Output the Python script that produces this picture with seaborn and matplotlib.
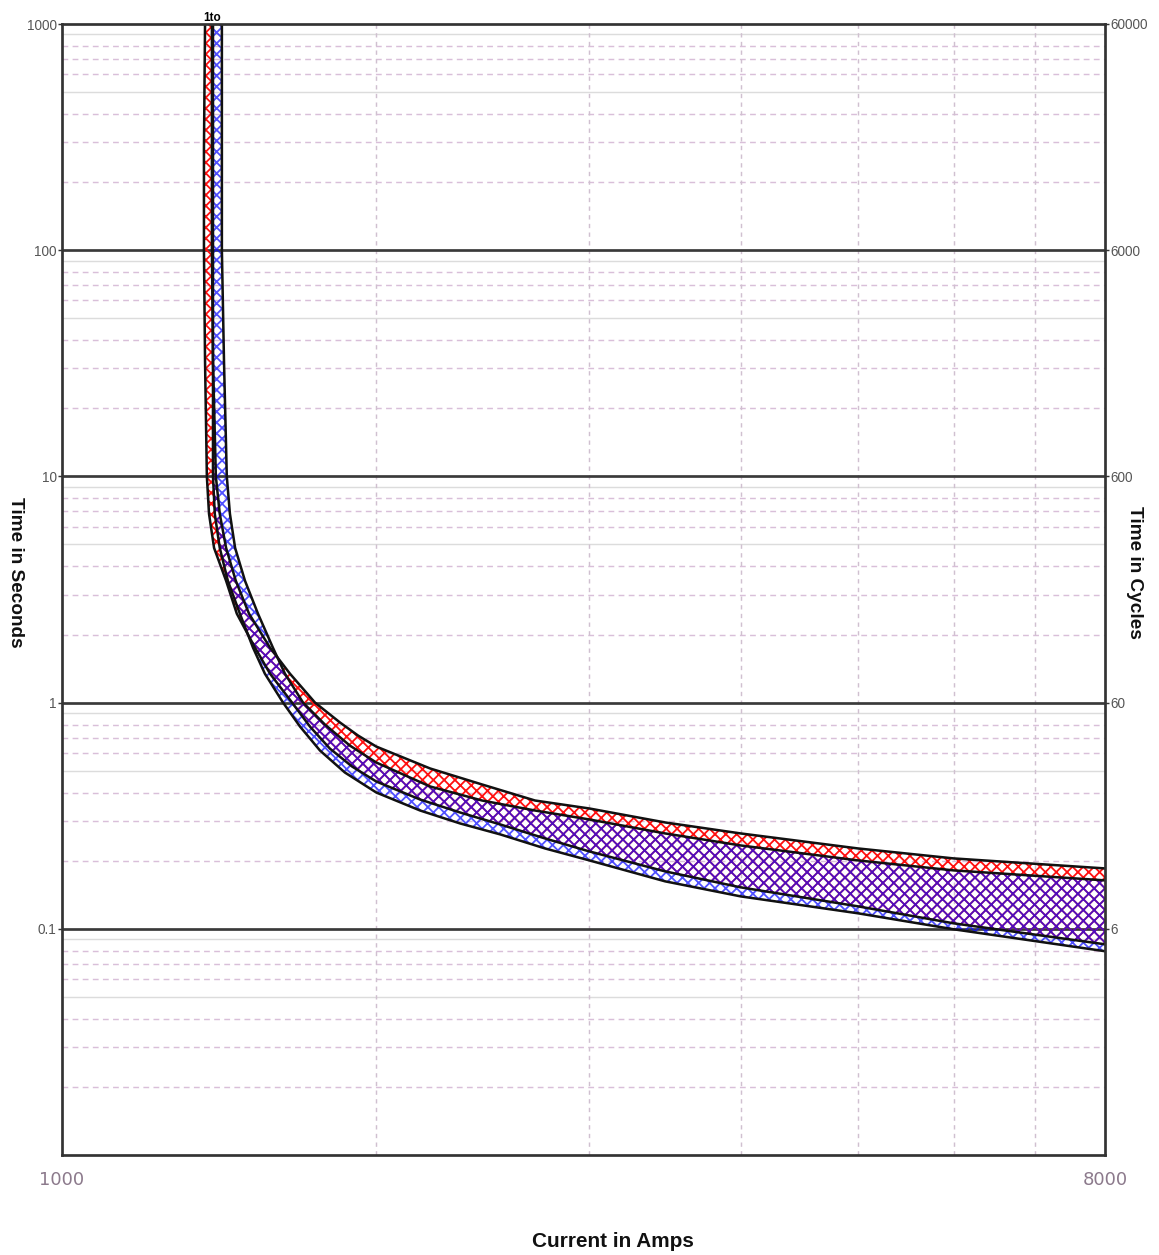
import matplotlib
matplotlib.use("Agg")
import matplotlib.pyplot as plt
import numpy as np
import pandas as pd
import seaborn as sns

# ---------------- data ----------------
# red device band: lower-left (min) and upper-right (max) curves
red_lo_amps = [1444, 1441, 1441, 1444, 1449, 1455, 1469, 1503, 1534, 1588, 1634, 1704, 1763,
               1831, 1910, 2000, 2174, 2346, 2532, 2757, 3000, 3465, 4000, 5000, 6000, 8000]
red_lo_secs = [1000, 279, 100, 32.4, 10, 6.83, 4.83, 3.456, 2.472, 1.749, 1.343, 1.0, 0.7835,
               0.6264, 0.5218, 0.4479, 0.3729, 0.3267, 0.2893, 0.2509, 0.2198, 0.1794, 0.1525,
               0.1257, 0.1057, 0.0854]
red_hi_amps = [1463, 1463, 1466, 1474, 1485, 1503, 1531, 1570, 1634, 1697, 1780, 1867, 1932,
               2000, 2216, 2446, 2705, 3000, 3465, 4000, 5000, 6000, 8000]
red_hi_secs = [1000, 100, 32.4, 10, 6.83, 4.83, 3.456, 2.472, 1.749, 1.343, 1.0, 0.816, 0.7149,
               0.6392, 0.5113, 0.4345, 0.3691, 0.3403, 0.2952, 0.2640, 0.2266, 0.2047, 0.1849]
# blue device band
blue_lo_amps = [1466, 1466, 1466, 1466, 1471, 1485, 1508, 1543, 1582, 1618, 1675, 1730, 1797,
                1884, 2000, 2174, 2346, 2532, 2757, 3000, 3465, 4000, 5000, 6000, 8000]
blue_lo_secs = [1000, 100, 21.5, 10, 6.83, 4.83, 3.456, 2.472, 1.749, 1.343, 1.0, 0.7835, 0.6138,
                0.4909, 0.4005, 0.3334, 0.2922, 0.2614, 0.2266, 0.2006, 0.1621, 0.1391, 0.1171,
                0.0995, 0.0796]
blue_hi_amps = [1491, 1491, 1497, 1505, 1514, 1529, 1558, 1597, 1643, 1681, 1740, 1814, 1902,
                2000, 2216, 2446, 2705, 3000, 3465, 4000, 5000, 6000, 8000]
blue_hi_secs = [1000, 100, 32.4, 10, 6.83, 4.83, 3.456, 2.472, 1.749, 1.343, 1.0, 0.7995, 0.6457,
                0.5434, 0.4257, 0.3691, 0.3334, 0.3043, 0.2640, 0.2336, 0.2006, 0.1812, 0.1637]

sec_ticks = [0.1, 1, 10, 100, 1000]
sec_labels = ["0.1", "1", "10", "100", "1000"]
cyc_ticks = [6, 60, 600, 6000, 60000]
cyc_labels = ["6", "60", "600", "6000", "60000"]
amp_tick_labels = ["1000", "8000"]
amp_grid = [2000, 3000, 4000, 5000, 6000, 7000]
curve_label = "1to"

# ---------------- styling ----------------
sns.set_theme(style="white")
plt.rcParams["font.family"] = ["Liberation Sans", "DejaVu Sans"]
plt.rcParams["hatch.linewidth"] = 1.0

DPI = 130
W, H = 1159, 1255
fig = plt.figure(figsize=(W / DPI, H / DPI), dpi=DPI)
L, R, T, B = 62, 1105, 24, 1155
ax = fig.add_axes([L / W, (H - B) / H, (R - L) / W, (B - T) / H])
ax.set_xscale("log")
ax.set_yscale("log")
ax.set_xlim(1100, 8000)
ax.set_ylim(0.01, 1000)

# grid lines
pink = "#d9bfd9"
for d in range(-2, 3):
    for k in range(2, 10):
        v = k * 10.0 ** d
        if k in (9, 5):
            ax.axhline(v, color="#dcdcdc", lw=0.8, ls="-", zorder=0.5)
        else:
            ax.axhline(v, color=pink, lw=0.8, ls=(0, (4, 3)), zorder=0.5)
for d in range(-1, 3):
    ax.axhline(10.0 ** d, color="#3a3a3a", lw=1.5, zorder=0.6)
for a in amp_grid:
    ax.axvline(a, color="#d0c0d0", lw=0.8, ls=(0, (3, 3)), zorder=0.5)

# bands
rx = red_lo_amps + red_hi_amps[::-1]
ry = red_lo_secs + red_hi_secs[::-1]
bx = blue_lo_amps + blue_hi_amps[::-1]
by = blue_lo_secs + blue_hi_secs[::-1]
ax.fill(rx, ry, facecolor="none", edgecolor="#ff1010", hatch="xxxx", lw=0, zorder=1)
ax.fill(bx, by, facecolor="none", edgecolor=(0.05, 0.05, 1.0, 0.72), hatch="xxxx", lw=0, zorder=1.1)

# boundary curves
frames = []
for name, xs, ys in [("red_lo", red_lo_amps, red_lo_secs), ("red_hi", red_hi_amps, red_hi_secs),
                     ("blue_lo", blue_lo_amps, blue_lo_secs), ("blue_hi", blue_hi_amps, blue_hi_secs)]:
    frames.append(pd.DataFrame({"curve": name, "amps": xs, "secs": ys}))
df = pd.concat(frames, ignore_index=True)
sns.lineplot(data=df, x="amps", y="secs", units="curve", estimator=None, sort=False,
             color="#111111", lw=1.4, ax=ax, zorder=2)

ax.text(1463, 1000, curve_label, ha="center", va="bottom", fontsize=6.5,
        fontweight="bold", color="black")

# axes ticks
ax.set_yticks(sec_ticks)
ax.set_yticklabels(sec_labels)
ax.yaxis.set_minor_locator(matplotlib.ticker.NullLocator())
ax.tick_params(axis="y", which="major", left=True, length=2, width=0.8, pad=1,
               labelsize=7.5, labelcolor="#555555", color="#333333")
ax.set_xticks([1100, 8000])
ax.set_xticklabels(amp_tick_labels)
ax.xaxis.set_minor_locator(matplotlib.ticker.NullLocator())
ax.tick_params(axis="x", which="major", bottom=True, length=0, pad=9,
               labelsize=10, labelcolor="#8c7a8c")
for lab in ax.get_xticklabels():
    lab.set_family(["DejaVu Sans"])

for s in ax.spines.values():
    s.set_color("#333333")
    s.set_linewidth(1.5)

ax.set_xlabel("Current in Amps", fontsize=11.5, fontweight="bold", color="#111111")
ax.xaxis.set_label_coords((613 - L) / (R - L), -(1232 - B) / (B - T))
ax.set_ylabel("Time in Seconds", fontsize=10.5, fontweight="bold", color="#111111",
              rotation=270, va="center", ha="center")
ax.yaxis.set_label_coords((15 - L) / (R - L), (B - 572) / (B - T))

ax2 = ax.twinx()
ax2.set_yscale("log")
ax2.set_ylim(0.6, 60000)
ax2.set_yticks(cyc_ticks)
ax2.set_yticklabels(cyc_labels)
ax2.yaxis.set_minor_locator(matplotlib.ticker.NullLocator())
ax2.tick_params(axis="y", which="major", right=True, length=2, width=0.8, pad=1,
                labelsize=7.5, labelcolor="#555555", color="#333333")
ax2.grid(False)
for s in ax2.spines.values():
    s.set_visible(False)
ax2.set_ylabel("Time in Cycles", fontsize=10.5, fontweight="bold", color="#111111",
               rotation=270, va="center", ha="center")
ax2.yaxis.set_label_coords((1135 - L) / (R - L), (B - 572) / (B - T))

fig.savefig("out.png", dpi=DPI)
